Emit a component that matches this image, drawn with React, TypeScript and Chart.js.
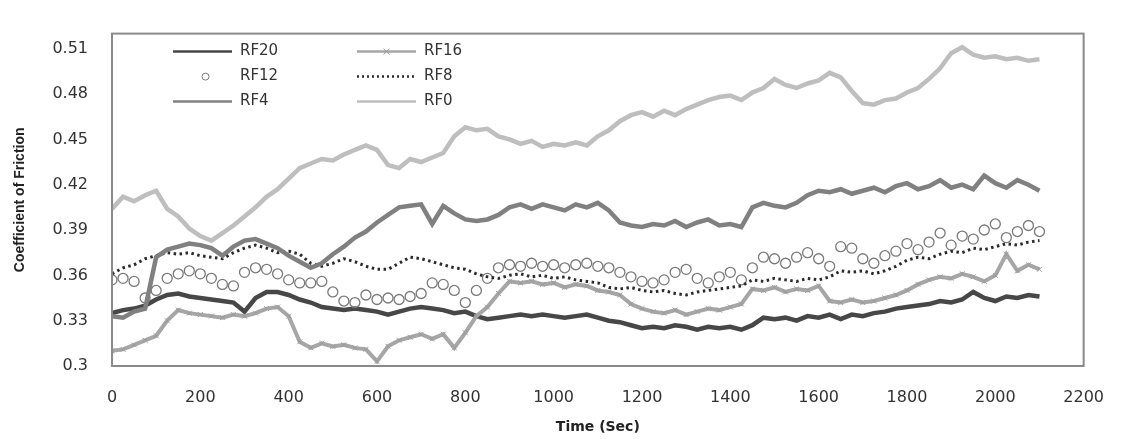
import React, { useEffect, useRef } from "react";
import { Chart, registerables } from "chart.js";

Chart.register(...registerables);

// Time axis (seconds)
const TIME = [
  0, 25, 50, 75, 100, 125, 150, 175, 200, 225, 250, 275, 300, 325, 350, 375,
  400, 425, 450, 475, 500, 525, 550, 575, 600, 625, 650, 675, 700, 725, 750, 775,
  800, 825, 850, 875, 900, 925, 950, 975, 1000, 1025, 1050, 1075, 1100, 1125, 1150, 1175,
  1200, 1225, 1250, 1275, 1300, 1325, 1350, 1375, 1400, 1425, 1450, 1475, 1500, 1525, 1550, 1575,
  1600, 1625, 1650, 1675, 1700, 1725, 1750, 1775, 1800, 1825, 1850, 1875, 1900, 1925, 1950, 1975,
  2000, 2025, 2050, 2075, 2100,
];

const RF20 = [
  0.335, 0.337, 0.338, 0.340,
  0.344, 0.347, 0.348, 0.346,
  0.345, 0.344, 0.343, 0.342,
  0.336, 0.345, 0.349, 0.349,
  0.347, 0.344, 0.342, 0.339,
  0.338, 0.337, 0.338, 0.337,
  0.336, 0.334, 0.336, 0.338,
  0.339, 0.338, 0.337, 0.335,
  0.336, 0.333, 0.331, 0.332,
  0.333, 0.334, 0.333, 0.334,
  0.333, 0.332, 0.333, 0.334,
  0.332, 0.330, 0.329, 0.327,
  0.325, 0.326, 0.325, 0.327,
  0.326, 0.324, 0.326, 0.325,
  0.326, 0.324, 0.327, 0.332,
  0.331, 0.332, 0.330, 0.333,
  0.332, 0.334, 0.331, 0.334,
  0.333, 0.335, 0.336, 0.338,
  0.339, 0.340, 0.341, 0.343,
  0.342, 0.344, 0.349, 0.345,
  0.343, 0.346, 0.345, 0.347,
  0.346,
];

const RF16 = [
  0.310, 0.311, 0.314, 0.317,
  0.320, 0.330, 0.337, 0.335,
  0.334, 0.333, 0.332, 0.334,
  0.333, 0.335, 0.338, 0.339,
  0.333, 0.316, 0.312, 0.315,
  0.313, 0.314, 0.312, 0.311,
  0.303, 0.313, 0.317, 0.319,
  0.321, 0.318, 0.321, 0.312,
  0.322, 0.333, 0.339, 0.348,
  0.356, 0.355, 0.356, 0.354,
  0.355, 0.352, 0.354, 0.353,
  0.350, 0.349, 0.347, 0.341,
  0.338, 0.336, 0.335, 0.337,
  0.334, 0.336, 0.338, 0.337,
  0.339, 0.341, 0.351, 0.350,
  0.352, 0.349, 0.351, 0.350,
  0.353, 0.343, 0.342, 0.344,
  0.342, 0.343, 0.345, 0.347,
  0.350, 0.354, 0.357, 0.359,
  0.358, 0.361, 0.359, 0.356,
  0.360, 0.374, 0.363, 0.367,
  0.364,
];

const RF12 = [
  0.357, 0.358, 0.356, 0.345,
  0.350, 0.358, 0.361, 0.363,
  0.361, 0.358, 0.354, 0.353,
  0.362, 0.365, 0.364, 0.361,
  0.357, 0.355, 0.355, 0.356,
  0.349, 0.343, 0.342, 0.347,
  0.344, 0.345, 0.344, 0.346,
  0.348, 0.355, 0.354, 0.350,
  0.342, 0.350, 0.358, 0.365,
  0.367, 0.366, 0.368, 0.366,
  0.367, 0.365, 0.367, 0.368,
  0.366, 0.365, 0.362, 0.359,
  0.356, 0.355, 0.357, 0.362,
  0.364, 0.358, 0.355, 0.359,
  0.362, 0.357, 0.365, 0.372,
  0.371, 0.368, 0.372, 0.375,
  0.371, 0.366, 0.379, 0.378,
  0.371, 0.368, 0.373, 0.376,
  0.381, 0.377, 0.382, 0.388,
  0.380, 0.386, 0.384, 0.390,
  0.394, 0.385, 0.389, 0.393,
  0.389,
];

const RF8 = [
  0.361, 0.365, 0.367, 0.371,
  0.373, 0.375, 0.374, 0.375,
  0.373, 0.372, 0.371, 0.375,
  0.378, 0.380, 0.378, 0.375,
  0.376, 0.374, 0.368, 0.366,
  0.368, 0.371, 0.369, 0.366,
  0.364, 0.364, 0.368, 0.372,
  0.371, 0.369, 0.367, 0.365,
  0.364, 0.361, 0.359, 0.358,
  0.360, 0.361, 0.359, 0.360,
  0.358, 0.359, 0.357, 0.356,
  0.355, 0.352, 0.351, 0.352,
  0.350, 0.349, 0.350, 0.348,
  0.347, 0.349, 0.350, 0.351,
  0.352, 0.353, 0.357, 0.356,
  0.358, 0.357, 0.356, 0.358,
  0.357, 0.359, 0.363, 0.362,
  0.363, 0.361, 0.363, 0.366,
  0.370, 0.372, 0.371, 0.374,
  0.376, 0.375, 0.378, 0.377,
  0.379, 0.381, 0.380, 0.382,
  0.383,
];

const RF4 = [
  0.333, 0.332, 0.336, 0.338,
  0.372, 0.377, 0.379, 0.381,
  0.380, 0.378, 0.373, 0.379,
  0.383, 0.384, 0.381, 0.378,
  0.373, 0.369, 0.365, 0.368,
  0.374, 0.379, 0.385, 0.389,
  0.395, 0.400, 0.405, 0.406,
  0.407, 0.394, 0.406, 0.401,
  0.397, 0.396, 0.397, 0.400,
  0.405, 0.407, 0.404, 0.407,
  0.405, 0.403, 0.407, 0.405,
  0.408, 0.403, 0.395, 0.393,
  0.392, 0.394, 0.393, 0.396,
  0.392, 0.395, 0.397, 0.393,
  0.394, 0.392, 0.405, 0.408,
  0.406, 0.405, 0.408, 0.413,
  0.416, 0.415, 0.417, 0.414,
  0.416, 0.418, 0.415, 0.419,
  0.421, 0.417, 0.419, 0.423,
  0.418, 0.420, 0.417, 0.426,
  0.421, 0.418, 0.423, 0.420,
  0.416,
];

const RF0 = [
  0.404, 0.412, 0.409, 0.413,
  0.416, 0.404, 0.399, 0.391,
  0.386, 0.383, 0.388, 0.393,
  0.399, 0.405, 0.412, 0.417,
  0.424, 0.431, 0.434, 0.437,
  0.436, 0.440, 0.443, 0.446,
  0.443, 0.433, 0.431, 0.437,
  0.435, 0.438, 0.441, 0.452,
  0.458, 0.456, 0.457, 0.452,
  0.450, 0.447, 0.449, 0.445,
  0.447, 0.446, 0.448, 0.446,
  0.452, 0.456, 0.462, 0.466,
  0.468, 0.465, 0.469, 0.466,
  0.470, 0.473, 0.476, 0.478,
  0.479, 0.476, 0.481, 0.484,
  0.490, 0.486, 0.484, 0.487,
  0.489, 0.494, 0.491, 0.482,
  0.474, 0.473, 0.476, 0.477,
  0.481, 0.484, 0.490, 0.497,
  0.507, 0.511, 0.506, 0.504,
  0.505, 0.503, 0.504, 0.502,
  0.503,
];

const X_TICKS = [0, 200, 400, 600, 800, 1000, 1200, 1400, 1600, 1800, 2000, 2200];
const X_TICK_LABELS = ["0", "200", "400", "600", "800", "1000", "1200", "1400", "1600", "1800", "2000", "2200"];
const Y_TICKS = [0.3, 0.33, 0.36, 0.39, 0.42, 0.45, 0.48, 0.51];
const Y_TICK_LABELS = ["0.3", "0.33", "0.36", "0.39", "0.42", "0.45", "0.48", "0.51"];
const LEGEND_ORDER = ["RF20", "RF16", "RF12", "RF8", "RF4", "RF0"];

const FONT = "'DejaVu Sans', 'Liberation Sans', sans-serif";

const toPoints = (vals: number[]) => TIME.map((t, i) => ({ x: t, y: vals[i] }));

const framePlugin = {
  id: "plotFrame",
  afterDatasetsDraw(chart: any) {
    const { ctx, chartArea } = chart;
    ctx.save();
    ctx.strokeStyle = "#8a8a8a";
    ctx.lineWidth = 2;
    ctx.strokeRect(chartArea.left, chartArea.top, chartArea.right - chartArea.left, chartArea.bottom - chartArea.top);
    ctx.restore();
  },
};

const legendPlugin = {
  id: "gridLegend",
  afterDraw(chart: any) {
    const { ctx, chartArea } = chart;
    const cols = [chartArea.left + 61, chartArea.left + 245];
    const rows = [chartArea.top + 18, chartArea.top + 43, chartArea.top + 68];
    const lineLen = 59;
    LEGEND_ORDER.forEach((label, i) => {
      const ds: any = chart.data.datasets.find((d: any) => d.label === label);
      if (!ds) return;
      const x = cols[i % 2];
      const y = rows[Math.floor(i / 2)];
      ctx.save();
      if (ds.showLine === false) {
        ctx.beginPath();
        ctx.arc(x + lineLen / 2 + 3, y, 3.5, 0, Math.PI * 2);
        ctx.strokeStyle = ds.pointBorderColor;
        ctx.lineWidth = 1;
        ctx.stroke();
      } else {
        ctx.beginPath();
        ctx.setLineDash(ds.borderDash ? [2, 3] : []);
        ctx.moveTo(x, y);
        ctx.lineTo(x + lineLen, y);
        ctx.strokeStyle = ds.borderColor;
        ctx.lineWidth = 2.5;
        ctx.stroke();
        ctx.setLineDash([]);
        if (ds.pointStyle === "crossRot") {
          const cx = x + lineLen / 2;
          ctx.beginPath();
          ctx.moveTo(cx - 3, y - 3);
          ctx.lineTo(cx + 3, y + 3);
          ctx.moveTo(cx - 3, y + 3);
          ctx.lineTo(cx + 3, y - 3);
          ctx.lineWidth = 1;
          ctx.strokeStyle = ds.pointBorderColor;
          ctx.stroke();
        }
      }
      ctx.fillStyle = "#333";
      ctx.font = `15px ${FONT}`;
      ctx.textBaseline = "middle";
      ctx.textAlign = "left";
      ctx.fillText(label, x + lineLen + 8, y);
      ctx.restore();
    });
  },
};

export default function App() {
  const ref = useRef<HTMLCanvasElement>(null);

  useEffect(() => {
    if (!ref.current) return;
    const chart = new Chart(ref.current, {
      type: "line",
      data: {
        datasets: [
          {
            label: "RF20",
            data: toPoints(RF20),
            borderColor: "#474747",
            borderWidth: 4.5,
            pointRadius: 0,
            order: 6,
          },
          {
            label: "RF16",
            data: toPoints(RF16),
            borderColor: "#a6a6a6",
            borderWidth: 4,
            pointStyle: "crossRot",
            pointRadius: 3.5,
            pointBorderColor: "#9c9c9c",
            pointBorderWidth: 1,
            pointBackgroundColor: "#9c9c9c",
            order: 5,
          },
          {
            label: "RF12",
            data: toPoints(RF12),
            showLine: false,
            borderColor: "#7a7a7a",
            pointStyle: "circle",
            pointRadius: 5,
            pointBorderColor: "#7a7a7a",
            pointBorderWidth: 1.3,
            pointBackgroundColor: "rgba(255,255,255,0)",
            order: 4,
          },
          {
            label: "RF8",
            data: toPoints(RF8),
            borderColor: "#2a2a2a",
            borderWidth: 3,
            borderDash: [2.5, 3.5],
            pointRadius: 0,
            order: 3,
          },
          {
            label: "RF4",
            data: toPoints(RF4),
            borderColor: "#808080",
            borderWidth: 4.5,
            pointRadius: 0,
            order: 2,
          },
          {
            label: "RF0",
            data: toPoints(RF0),
            borderColor: "#bebebe",
            borderWidth: 4.5,
            pointRadius: 0,
            order: 1,
          },
        ] as any,
      },
      options: {
        animation: false,
        responsive: false,
        devicePixelRatio: 1,
        layout: { padding: { top: 10, right: 30, left: 0, bottom: 0 } },
        elements: { line: { tension: 0 } },
        plugins: {
          legend: { display: false },
          tooltip: { enabled: false },
        },
        scales: {
          x: {
            type: "linear",
            min: 0,
            max: 2200,
            grid: { display: false, drawTicks: false },
            border: { display: false },
            afterBuildTicks: (s: any) => {
              s.ticks = X_TICKS.map((v) => ({ value: v }));
            },
            ticks: {
              autoSkip: false,
              maxRotation: 0,
              padding: 22,
              color: "#333",
              font: { family: FONT, size: 16 },
              callback: (_v: any, i: number) => X_TICK_LABELS[i],
            },
            title: {
              display: true,
              text: "Time (Sec)",
              color: "#222",
              font: { family: FONT, size: 14, weight: "bold" },
              padding: { top: 0, bottom: 3 },
            },
            afterFit: (s: any) => {
              s.height = 73;
            },
          },
          y: {
            type: "linear",
            min: 0.3,
            max: 0.52,
            grid: { display: false, drawTicks: false },
            border: { display: false },
            afterBuildTicks: (s: any) => {
              s.ticks = Y_TICKS.map((v) => ({ value: v }));
            },
            ticks: {
              autoSkip: false,
              padding: 24,
              color: "#333",
              font: { family: FONT, size: 16 },
              callback: (_v: any, i: number) => Y_TICK_LABELS[i],
            },
            title: {
              display: true,
              text: "Coefficient of Friction",
              color: "#222",
              font: { family: "'Liberation Sans', sans-serif", size: 14, weight: "bold" },
              padding: { top: 12, bottom: 0 },
            },
            afterFit: (s: any) => {
              s.width = 112;
            },
          },
        },
      } as any,
      plugins: [framePlugin, legendPlugin],
    });
    return () => chart.destroy();
  }, []);

  return (
    <div style={{ position: "fixed", left: 0, top: 0, width: 1126, height: 439, background: "#fff" }}>
      <canvas ref={ref} width={1126} height={439} style={{ display: "block", width: 1126, height: 439 }} />
    </div>
  );
}
